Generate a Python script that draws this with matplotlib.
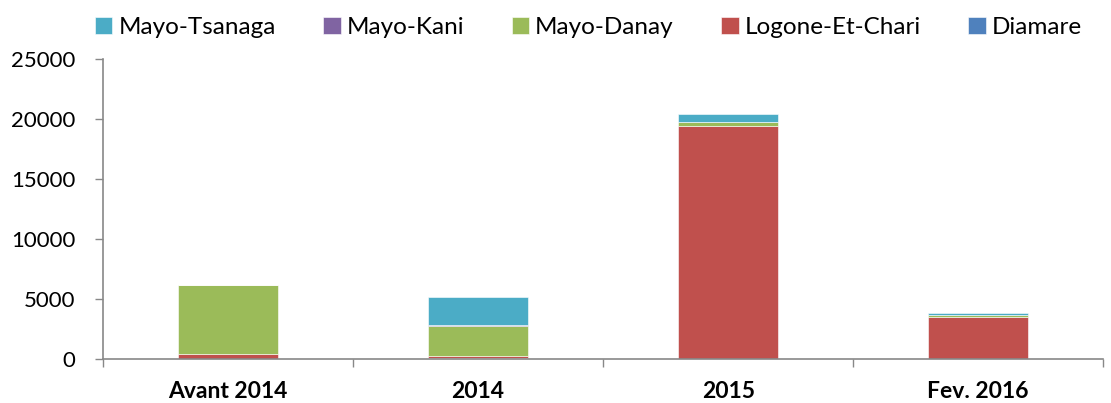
import matplotlib.pyplot as plt
import numpy as np

plt.rcParams['font.family'] = ['Lato', 'DejaVu Sans']

### Données
categories = ['Avant 2014', '2014', '2015', 'Fev. 2016']
diamare = np.array([0, 110, 0, 0])
logone = np.array([450, 170, 19400, 3530])
kani = np.array([0, 20, 0, 0])
danay = np.array([5700, 2500, 380, 140])
tsanaga = np.array([0, 2400, 640, 180])

series = [('Diamare', diamare, '#4F81BD'),
          ('Logone-Et-Chari', logone, '#C0504D'),
          ('Mayo-Danay', danay, '#9BBB59'),
          ('Mayo-Kani', kani, '#8064A2'),
          ('Mayo-Tsanaga', tsanaga, '#4BACC6')]

fig = plt.figure(figsize=(11.11, 4.03), dpi=100)
ax = fig.add_axes([0.0927, 0.109, 0.9003, 0.745])

x = np.arange(len(categories))
bas = np.zeros(len(categories))
barres = {}
for nom, val, coul in series:
    barres[nom] = ax.bar(x, val, 0.4, bottom=bas, color=coul, edgecolor='white', linewidth=0.4)
    bas = bas + val

ax.set_xlim(-0.5, len(categories) - 0.5)
ax.set_ylim(0, 25000)
ax.set_yticks(np.arange(0, 25001, 5000))
ax.set_yticklabels([str(v) for v in range(0, 25001, 5000)], fontsize=16)
ax.set_xticks(x)
ax.set_xticklabels(categories, fontsize=16.5, fontweight='bold')
ax.tick_params(axis='x', length=0, pad=16)
ax.set_xticks(np.arange(-0.5, len(categories), 1), minor=True)
ax.tick_params(axis='x', which='minor', length=6, color='#888888', width=1)
ax.tick_params(axis='y', length=6, color='#888888', width=1, pad=14)

for s in ['top', 'right']:
    ax.spines[s].set_visible(False)
for s in ['left', 'bottom']:
    ax.spines[s].set_color('#888888')
    ax.spines[s].set_linewidth(1.2)

ordre = ['Mayo-Tsanaga', 'Mayo-Kani', 'Mayo-Danay', 'Logone-Et-Chari', 'Diamare']
ax.legend([barres[n] for n in ordre], ordre, ncol=5, frameon=False, fontsize=17.5,
          loc='upper left', bbox_to_anchor=(-0.018, 1.173), handlelength=0.72,
          handleheight=0.72, handletextpad=0.25, columnspacing=1.95, borderaxespad=0)

fig.savefig('out.png', dpi=100)
